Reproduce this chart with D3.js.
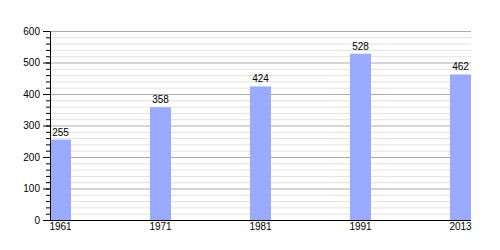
<!DOCTYPE html>
<html>
<head>
<meta charset="utf-8">
<script src="https://cdn.jsdelivr.net/npm/d3@7"></script>
<style>
  body { margin: 0; background: #fff; }
  svg text { font-family: "Liberation Sans", Arial, sans-serif; font-size: 10px; fill: #000; }
</style>
</head>
<body>
<svg id="chart" width="500" height="250"></svg>
<script>
// chart data
const years = ['1961', '1971', '1981', '1991', '2013'];
const population = [255, 358, 424, 528, 462];
const majorTicks = [0, 100, 200, 300, 400, 500, 600];
const minorTicks = d3.range(0, 601, 20);

const plotLeft = 50, plotTop = 31, plotBottom = 220, barWidth = 21;

const svg = d3.select('#chart');

const x = d3.scalePoint()
  .domain(years)
  .range([plotLeft, 450]);
const plotRight = x(years[years.length - 1]) + barWidth;

const y = d3.scaleLinear()
  .domain([0, 600])
  .range([plotBottom, plotTop]);

// minor grid
svg.append('g')
  .attr('transform', `translate(${plotLeft},0)`)
  .call(d3.axisLeft(y).tickValues(minorTicks.filter(d => d % 100 !== 0)).tickSize(-(plotRight - plotLeft)).tickFormat(''))
  .call(g => g.select('.domain').remove())
  .selectAll('line').attr('stroke', '#e2e2e2');

// major grid
svg.append('g')
  .attr('transform', `translate(${plotLeft},0)`)
  .call(d3.axisLeft(y).tickValues(majorTicks.slice(1)).tickSize(-(plotRight - plotLeft)).tickFormat(''))
  .call(g => g.select('.domain').remove())
  .selectAll('line').attr('stroke', '#ababab');

// bars
svg.selectAll('rect.bar')
  .data(population)
  .enter()
  .append('rect')
    .attr('class', 'bar')
    .attr('x', (d, i) => x(years[i]))
    .attr('y', d => y(d))
    .attr('width', barWidth)
    .attr('height', d => plotBottom - y(d))
    .attr('fill', '#99aaff');

// value labels
svg.selectAll('text.val')
  .data(population)
  .enter()
  .append('text')
    .attr('class', 'val')
    .attr('x', (d, i) => x(years[i]) + barWidth / 2)
    .attr('y', d => y(d) - 4)
    .attr('text-anchor', 'middle')
    .text(d => d);

// y axis minor ticks
svg.append('g')
  .attr('transform', `translate(${plotLeft},0)`)
  .call(d3.axisLeft(y).tickValues(minorTicks).tickSize(4).tickFormat(''))
  .call(g => g.select('.domain').remove())
  .selectAll('line').attr('stroke', '#000');

// y axis
const yAxis = svg.append('g')
  .attr('transform', `translate(${plotLeft},0)`)
  .call(d3.axisLeft(y).tickValues(majorTicks).tickSize(7).tickSizeOuter(0).tickPadding(3));
yAxis.select('.domain').attr('stroke', '#000');
yAxis.selectAll('line').attr('stroke', '#000');
yAxis.attr('font-size', null).attr('font-family', null);

// x axis line
svg.append('line')
  .attr('x1', plotLeft).attr('x2', plotRight)
  .attr('y1', plotBottom + 0.5).attr('y2', plotBottom + 0.5)
  .attr('stroke', '#000');

// x labels
svg.selectAll('text.year')
  .data(years)
  .enter()
  .append('text')
    .attr('class', 'year')
    .attr('x', d => x(d) + barWidth / 2)
    .attr('y', 230)
    .attr('text-anchor', 'middle')
    .text(d => d);
</script>
</body>
</html>
